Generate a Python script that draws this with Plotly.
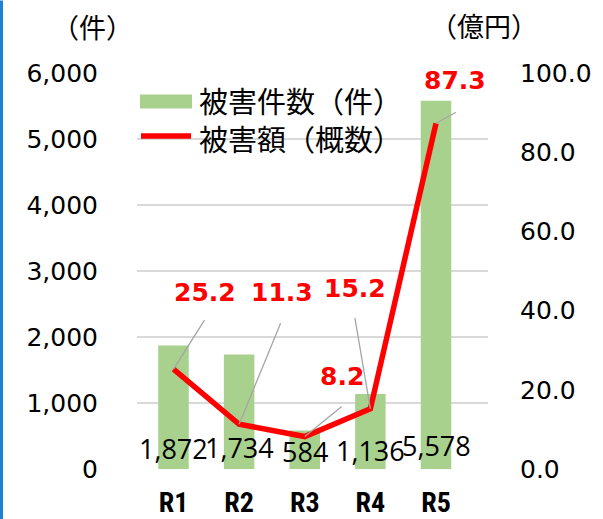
import plotly.graph_objects as go

# ---- data ----
categories = ["R1", "R2", "R3", "R4", "R5"]
cases = [1872, 1734, 584, 1136, 5578]          # 被害件数（件）
damage = [25.2, 11.3, 8.2, 15.2, 87.3]          # 被害額（概数）億円
left_ticks = [0, 1000, 2000, 3000, 4000, 5000, 6000]
right_ticks = [0, 20, 40, 60, 80, 100]
series_names = ["被害件数（件）", "被害額（概数）"]

# ---- layout constants (pixels) ----
W, H = 603, 519
L, R, T, B = 137, 115, 72.5, 50
PW, PH = W - L - R, H - T - B

def px(x, y):
    return (x - L) / PW, (H - B - y) / PH

# label offsets (px) relative to each line point: label, leader end
lab_off = [(31, 77), (42.5, 132), (37, 60), (-15.5, 120), (19, 43)]
lead_off = [(31, 49), (41.5, 101), (37, 30), (-15.5, 91), (20, 11)]
bar_lab_shift = [21, 22, 18, 19, 24]

CJK = "Noto Sans CJK JP"
NUM = "DejaVu Sans"

fig = go.Figure()
fig.add_trace(go.Bar(
    x=categories, y=cases, name=series_names[0],
    marker=dict(color="#A9D18E", line=dict(width=0)),
    width=0.465, yaxis="y", showlegend=False, hoverinfo="skip"))
fig.add_trace(go.Scatter(
    x=categories, y=damage, name=series_names[1], mode="lines",
    line=dict(color="#FF0000", width=5.5), yaxis="y2", showlegend=False,
    hoverinfo="skip"))

annotations = []
shapes = []

# bar value labels
for c, v, s in zip(categories, cases, bar_lab_shift):
    annotations.append(dict(
        x=c, y=0, xref="x", yref="y", text=f"{v:,}", showarrow=False,
        xanchor="center", yanchor="middle", yshift=s,
        font=dict(family="Open Sans", size=27, color="#000000")))

# line value labels and leader lines
for c, v, (lx, ly), (dx, dy) in zip(categories, damage, lab_off, lead_off):
    annotations.append(dict(
        x=c, y=v, xref="x", yref="y2", text=f"{v:.1f}", showarrow=False,
        xanchor="center", yanchor="middle", xshift=lx, yshift=ly,
        font=dict(family=NUM, size=25, color="#FF0000", weight="bold")))
    shapes.append(dict(
        type="line", xref="x", yref="y2", xsizemode="pixel", ysizemode="pixel",
        xanchor=c, yanchor=v, x0=0, y0=0, x1=dx, y1=dy,
        line=dict(color="#A6A6A6", width=1.3), layer="above"))

# axis titles
ax_, ay_ = px(92, 26)
annotations.append(dict(x=ax_, y=ay_, xref="paper", yref="paper", text="（件）",
                        showarrow=False, xanchor="center", yanchor="middle",
                        font=dict(family=CJK, size=27, color="#000000")))
ax_, ay_ = px(484, 25)
annotations.append(dict(x=ax_, y=ay_, xref="paper", yref="paper", text="（億円）",
                        showarrow=False, xanchor="center", yanchor="middle",
                        font=dict(family=CJK, size=27, color="#000000")))

# custom legend
x0, y0 = px(140, 94)
x1, y1 = px(192, 108)
shapes.append(dict(type="rect", xref="paper", yref="paper", x0=x0, x1=x1, y0=y0, y1=y1,
                   fillcolor="#A9D18E", line=dict(width=0), layer="above"))
x0, y0 = px(141, 135.5)
x1, y1 = px(191, 135.5)
shapes.append(dict(type="line", xref="paper", yref="paper", x0=x0, x1=x1, y0=y0, y1=y1,
                   line=dict(color="#FF0000", width=5.5), layer="above"))
tx, ty = px(197, 119)
annotations.append(dict(x=tx, y=ty, xref="paper", yref="paper",
                        text="<br>".join(series_names), align="left",
                        showarrow=False, xanchor="left", yanchor="middle",
                        font=dict(family=CJK, size=29, color="#000000")))

# blue strip at left edge
bx0, by0 = px(0, 0)
bx1, by1 = px(3, H)
shapes.append(dict(type="rect", xref="paper", yref="paper", x0=bx0, x1=bx1, y0=by1, y1=by0,
                   fillcolor="#1E82D2", line=dict(width=0), layer="above"))

fig.update_layout(
    width=W, height=H,
    margin=dict(l=L, r=R, t=T, b=B, pad=0, autoexpand=False),
    paper_bgcolor="white", plot_bgcolor="white",
    showlegend=False,
    bargap=0.5,
    xaxis=dict(
        type="category", showgrid=False, zeroline=False, showline=False,
        ticks="", ticklabelstandoff=14, automargin=False,
        tickfont=dict(family="Roboto", size=28, color="#000000", weight="bold")),
    yaxis=dict(
        range=[0, 6000], tickvals=left_ticks, tickformat=",",
        showgrid=True, gridcolor="#D9D9D9", gridwidth=1.5, automargin=False,
        zeroline=False, showline=False, ticks="", ticklabelstandoff=38,
        tickfont=dict(family=NUM, size=25, color="#000000")),
    yaxis2=dict(
        range=[0, 100], tickvals=right_ticks, tickformat=".1f",
        overlaying="y", side="right", showgrid=False, zeroline=False,
        showline=False, ticks="", ticklabelstandoff=31, automargin=False,
        tickfont=dict(family=NUM, size=25, color="#000000")),
    annotations=annotations,
    shapes=shapes,
)

fig.write_html(
    "out.html",
    config={"displayModeBar": False, "staticPlot": True},
    post_script="document.body.style.margin='0';document.body.style.padding='0';"
                "document.body.style.overflow='hidden';"
                "document.querySelectorAll('.xtick text').forEach(function(t){"
                "t.style.fontStretch='condensed';});")
